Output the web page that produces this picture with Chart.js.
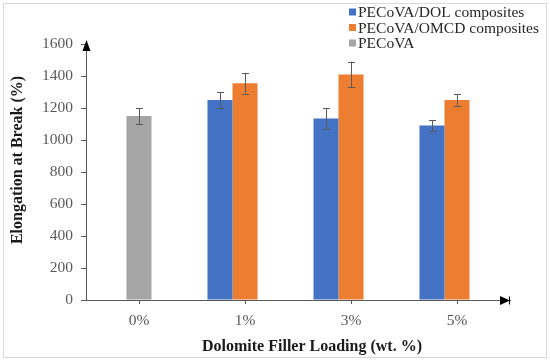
<!DOCTYPE html>
<html>
<head>
<meta charset="utf-8">
<script src="https://cdn.jsdelivr.net/npm/chart.js@4/dist/chart.umd.min.js"></script>
<style>
html,body{margin:0;padding:0;background:#fff;}
#wrap{width:550px;height:361px;position:relative;}
</style>
</head>
<body>
<div id="wrap"><canvas id="c" width="550" height="361"></canvas></div>
<script>
const categories = ['0%', '1%', '3%', '5%'];
const dolValues = [null, 1250, 1135, 1090];
const dolErrors = [null, 50, 65, 33];
const omcdValues = [null, 1355, 1410, 1250];
const omcdErrors = [null, 65, 80, 35];
const pecovaValues = [1150, null, null, null];
const pecovaErrors = [50, null, null, null];
const yTicks = [0, 200, 400, 600, 800, 1000, 1200, 1400, 1600];
const seriesLabels = ['PECoVA/DOL composites', 'PECoVA/OMCD composites', 'PECoVA'];
const xTitle = 'Dolomite Filler Loading (wt. %)';
const yTitle = 'Elongation at Break (%)';

const colors = ['#4472C4', '#ED7D31', '#A5A5A5'];
const FONT = "'Liberation Serif', 'Times New Roman', serif";
const AXIS = '#595959';

const extras = {
  id: 'extras',
  afterDatasetsDraw(chart) {
    const ctx = chart.ctx;
    const y = chart.scales.y;
    ctx.save();
    ctx.strokeStyle = '#5a5a5a';
    ctx.lineWidth = 1;
    chart.data.datasets.forEach((ds, di) => {
      if (!ds.errors) return;
      const meta = chart.getDatasetMeta(di);
      meta.data.forEach((el, i) => {
        const v = ds.data[i], e = ds.errors[i];
        if (v == null || e == null) return;
        const x = Math.round(el.x) + 0.5;
        const yt = y.getPixelForValue(v + e), yb = y.getPixelForValue(v - e);
        ctx.beginPath();
        ctx.moveTo(x, yt); ctx.lineTo(x, yb);
        ctx.moveTo(x - 3.5, Math.round(yt) + 0.5); ctx.lineTo(x + 3.5, Math.round(yt) + 0.5);
        ctx.moveTo(x - 3.5, Math.round(yb) + 0.5); ctx.lineTo(x + 3.5, Math.round(yb) + 0.5);
        ctx.stroke();
      });
    });
    ctx.restore();
  },
  afterDraw(chart) {
    const ctx = chart.ctx;
    const a = chart.chartArea;
    ctx.save();
    ctx.strokeStyle = '#d9d9d9';
    ctx.lineWidth = 1;
    ctx.strokeRect(3.5, 3.5, 543, 354);
    ctx.fillStyle = '#000';
    const ax = a.left + 0.5;
    ctx.beginPath();
    ctx.moveTo(ax, a.top - 4); ctx.lineTo(ax - 4, a.top + 7); ctx.lineTo(ax + 4, a.top + 7); ctx.closePath(); ctx.fill();
    const ay = a.bottom + 0.5;
    ctx.beginPath();
    ctx.moveTo(a.right, ay); ctx.lineTo(a.right - 10, ay - 4.5); ctx.lineTo(a.right - 10, ay + 4.5); ctx.closePath(); ctx.fill();
    ctx.strokeStyle = '#000';
    ctx.beginPath(); ctx.moveTo(a.right - 0.5, ay - 4); ctx.lineTo(a.right - 0.5, ay + 4); ctx.stroke();
    ctx.font = '15.5px ' + FONT;
    ctx.textBaseline = 'middle';
    ctx.textAlign = 'left';
    seriesLabels.forEach((lab, i) => {
      const cy = 12 + i * 15.5;
      ctx.fillStyle = colors[i];
      ctx.fillRect(349, cy - 3.5, 7, 7);
      ctx.fillStyle = '#262626';
      ctx.fillText(lab, 358, cy + 1);
    });
    ctx.font = 'bold 16px ' + FONT;
    ctx.fillStyle = '#1a1a1a';
    ctx.textAlign = 'center';
    ctx.fillText(xTitle, 312, 347);
    ctx.translate(18, 160);
    ctx.rotate(-Math.PI / 2);
    ctx.fillText(yTitle, 0, 0);
    ctx.restore();
  }
};

new Chart(document.getElementById('c'), {
  type: 'bar',
  data: {
    labels: categories,
    datasets: [
      { label: seriesLabels[0], data: dolValues, errors: dolErrors, backgroundColor: colors[0], stack: 's1' },
      { label: seriesLabels[1], data: omcdValues, errors: omcdErrors, backgroundColor: colors[1], stack: 's2' },
      { label: seriesLabels[2], data: pecovaValues, errors: pecovaErrors, backgroundColor: colors[2], stack: 's2' },
      { label: '', data: [null, null, null, null], backgroundColor: 'rgba(0,0,0,0)', stack: 's3' }
    ]
  },
  options: {
    responsive: false,
    animation: false,
    devicePixelRatio: 1,
    layout: { padding: { left: 0, right: 40, top: 44, bottom: 0 } },
    datasets: { bar: { categoryPercentage: 0.708, barPercentage: 1 } },
    plugins: { legend: { display: false }, tooltip: { enabled: false } },
    scales: {
      x: {
        grid: { display: true, drawOnChartArea: false, drawTicks: true, tickLength: 4, offset: false, color: AXIS },
        border: { display: true, color: AXIS, width: 1 },
        ticks: { color: AXIS, font: { family: FONT, size: 15.5 }, padding: 8 },
        afterFit(s) { s.height = 61; }
      },
      y: {
        stacked: false,
        min: 0, max: 1600,
        afterBuildTicks(s) { s.ticks = yTicks.map(v => ({ value: v })); },
        grid: { display: true, drawOnChartArea: false, drawTicks: true, tickLength: 5, color: AXIS },
        border: { display: true, color: AXIS, width: 1 },
        ticks: { color: AXIS, font: { family: FONT, size: 15.5 }, padding: 8, callback: (v) => String(v) },
        afterFit(s) { s.width = 86; }
      }
    }
  },
  plugins: [extras]
});
</script>
</body>
</html>
